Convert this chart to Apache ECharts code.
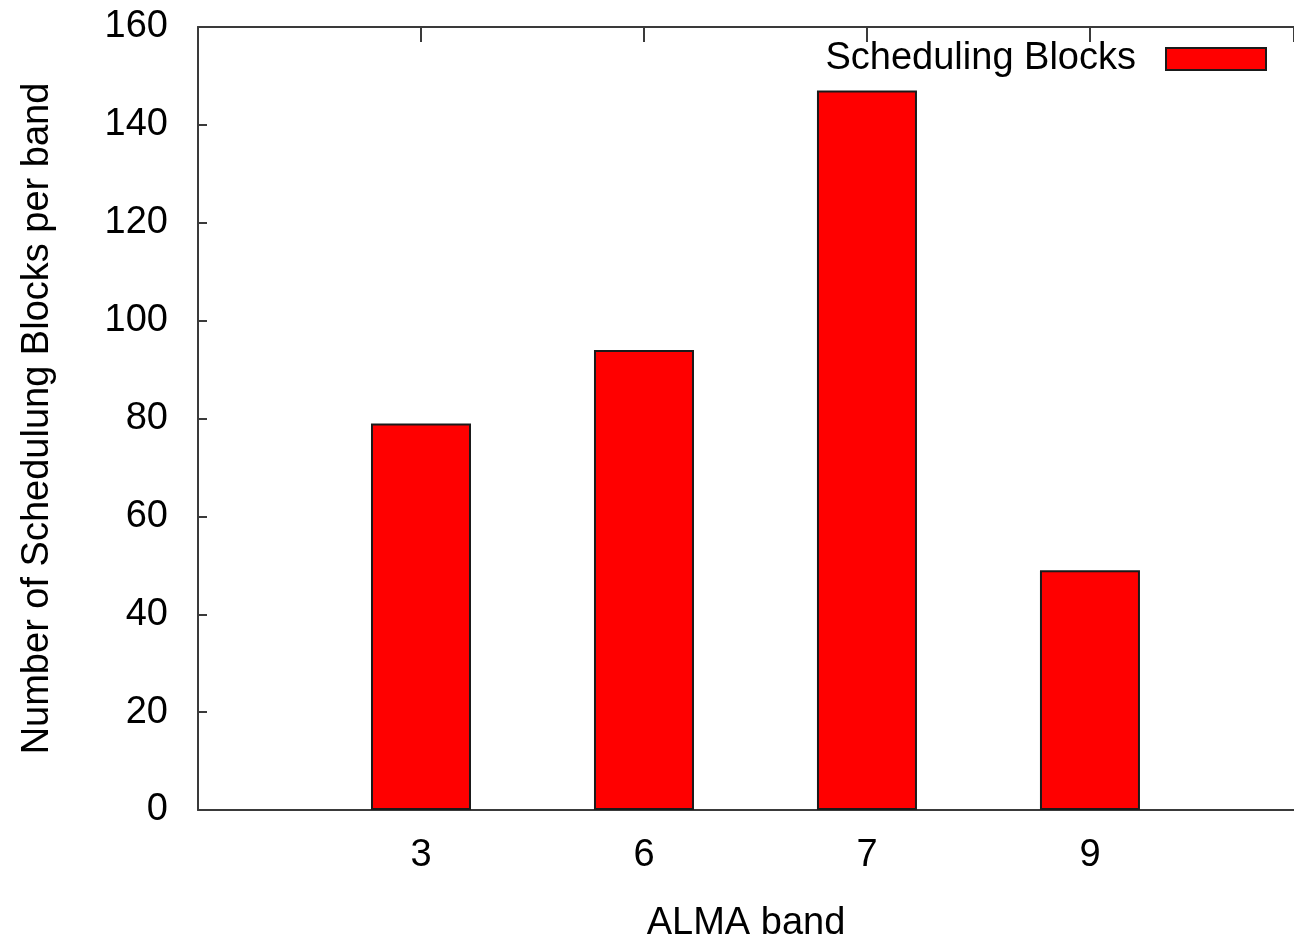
<!DOCTYPE html>
<html>
<head>
<meta charset="utf-8">
<script src="https://cdn.jsdelivr.net/npm/echarts@6/dist/echarts.min.js"></script>
<style>
html,body{margin:0;padding:0;background:#fff;}
#c{width:1294px;height:941px;}
</style>
</head>
<body>
<div id="c"></div>
<script>
const bands = ['3', '6', '7', '9'];
const blocks = [79, 94, 147, 49];
const yTicks = [0, 20, 40, 60, 80, 100, 120, 140, 160];
const seriesName = 'Scheduling Blocks';
const xTitle = 'ALMA band';
const yTitle = 'Number of Schedulung Blocks per band';

const FONT = '"Liberation Sans", Arial, sans-serif';
const FS = 38;
const AX = '#3a3a3a';
const X_MAX = 4.915; // visible part of the x range (plot continues past the right edge)

const chart = echarts.init(document.getElementById('c'), null, {renderer: 'canvas'});
const xLabel = v => {
  const r = Math.round(v);
  const i = r - 1;
  return (i >= 0 && i < bands.length && Math.abs(v - r) < 1e-6) ? bands[i] : '';
};
chart.setOption({
  animation: false,
  backgroundColor: '#ffffff',
  textStyle: {fontFamily: FONT},
  grid: {left: 198, top: 27, width: 1096, height: 783, containLabel: false, outerBoundsMode: 'none'},
  legend: {
    data: [seriesName],
    right: 27,
    top: 40,
    padding: 0,
    align: 'right',
    itemWidth: 100,
    itemHeight: 22,
    icon: 'rect',
    textStyle: {fontSize: FS, color: '#000', fontFamily: FONT, padding: [0, 25, 20, 0]},
    itemStyle: {borderColor: '#1a1a1a', borderWidth: 2}
  },
  xAxis: [{
    type: 'value',
    position: 'bottom',
    min: 0,
    max: X_MAX,
    interval: 1,
    splitLine: {show: false},
    axisLine: {show: true, lineStyle: {color: AX, width: 2}},
    axisTick: {show: true, inside: true, length: 15, lineStyle: {color: AX, width: 2}},
    axisLabel: {formatter: xLabel, fontSize: FS, color: '#000', margin: 27, fontFamily: FONT, showMaxLabel: false},
    name: xTitle,
    nameLocation: 'middle',
    nameGap: 95,
    nameTextStyle: {fontSize: FS, color: '#000', fontFamily: FONT}
  }, {
    type: 'value',
    position: 'top',
    min: 0,
    max: X_MAX,
    interval: 1,
    splitLine: {show: false},
    axisLine: {show: true, lineStyle: {color: AX, width: 2}},
    axisTick: {show: true, inside: true, length: 15, lineStyle: {color: AX, width: 2}},
    axisLabel: {show: false}
  }],
  yAxis: {
    type: 'value',
    min: yTicks[0],
    max: yTicks[yTicks.length - 1],
    interval: yTicks[1] - yTicks[0],
    splitLine: {show: false},
    axisLine: {show: true, lineStyle: {color: AX, width: 2}},
    axisTick: {show: true, inside: true, length: 9, lineStyle: {color: AX, width: 2}},
    axisLabel: {fontSize: FS, color: '#000', margin: 30, fontFamily: FONT},
    name: yTitle,
    nameLocation: 'middle',
    nameRotate: 90,
    nameGap: 141,
    nameTextStyle: {fontSize: FS, color: '#000', fontFamily: FONT}
  },
  series: [{
    name: seriesName,
    type: 'bar',
    xAxisIndex: 0,
    barWidth: 100,
    data: blocks.map((v, i) => [i + 1, v]),
    itemStyle: {color: '#ff0000', borderColor: '#1a1a1a', borderWidth: 2}
  }]
});
</script>
</body>
</html>
